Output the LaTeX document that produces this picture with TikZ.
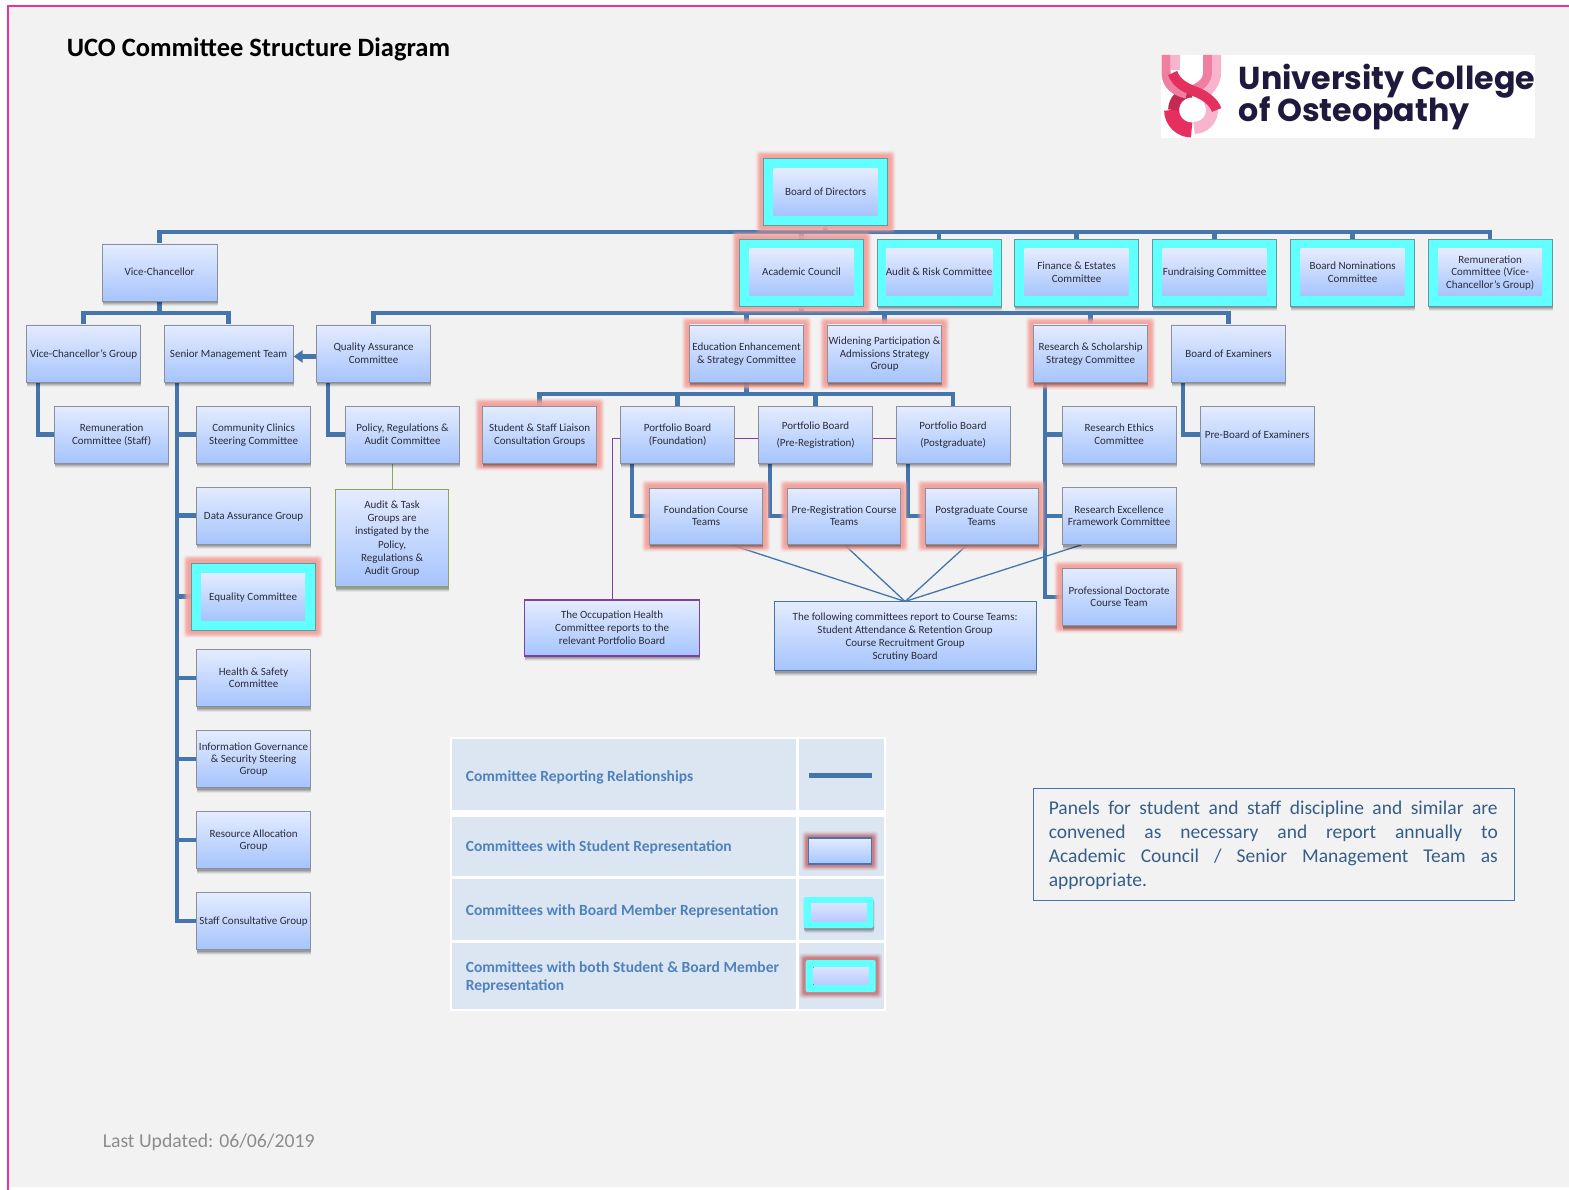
\documentclass[tikz,border=0pt]{standalone}
\usepackage{fontspec}
\setmainfont{Carlito}
\newfontfamily\logofont{Poppins}
\usetikzlibrary{shadows,calc,arrows.meta}
\definecolor{bgc}{HTML}{F2F2F2}
\definecolor{frame}{HTML}{F02FA0}
\definecolor{conn}{HTML}{4475AD}
\definecolor{boxtop}{HTML}{E4ECFF}
\definecolor{boxbot}{HTML}{A6C4FC}
\definecolor{boxedge}{HTML}{8A8F9A}
\definecolor{glow}{HTML}{F3A09A}
\definecolor{cyanb}{HTML}{62FFFF}
\definecolor{cyanedge}{HTML}{5F9A9E}
\definecolor{purp}{HTML}{7F3FA8}
\definecolor{oliveg}{HTML}{8AA656}
\definecolor{legbg}{HTML}{DCE6F2}
\definecolor{legtxt}{HTML}{4F81BD}
\definecolor{legglow}{HTML}{C04444}
\definecolor{inkc}{HTML}{2B2B38}
\definecolor{logoink}{HTML}{1F1A3D}
\definecolor{lp}{HTML}{F7B4CC}
\definecolor{mp}{HTML}{EE7FA0}
\definecolor{cr}{HTML}{E5305F}
\definecolor{legin1}{HTML}{DCE4FF}
\definecolor{legin2}{HTML}{B8CAFF}
\newcommand{\ft}{\rule{0pt}{10pt}}
\newcommand{\lt}{\rule[-3pt]{0pt}{3pt}}
\pgfdeclarelayer{bgl}\pgfdeclarelayer{connl}\pgfdeclarelayer{glowl}
\pgfsetlayers{bgl,connl,glowl,main}
\tikzset{
  x=1pt,y=-1pt,
  softsh/.style={
    general shadow={shadow xshift=.5pt,shadow yshift=-5pt,opacity=.06,fill=black,draw=none},
    general shadow={shadow xshift=.5pt,shadow yshift=-4pt,opacity=.09,fill=black,draw=none},
    general shadow={shadow xshift=.5pt,shadow yshift=-3pt,opacity=.12,fill=black,draw=none},
    general shadow={shadow xshift=.5pt,shadow yshift=-2pt,opacity=.15,fill=black,draw=none}},
  btxt/.style={top color=boxtop,bottom color=boxbot,align=center,
    font=\fontsize{11}{12.2}\selectfont,text=inkc,inner sep=0pt},
  cbox/.style={btxt,draw=boxedge,line width=0.9pt,minimum width=#1,softsh},
  cbox/.default=114,
  cinner/.style={btxt,minimum width=104,minimum height=47},
  cyanout/.style={fill=cyanb,draw=cyanedge,line width=.8pt,minimum width=124,minimum height=67,inner sep=0pt,softsh},
  bothout/.style={fill=cyanb,draw=cyanedge,line width=.8pt,minimum width=124,minimum height=67,inner sep=0pt},
  rep/.style={line width=4.3pt,draw=conn,line join=miter},
  thinl/.style={line width=1.3pt,draw=conn},
  pline/.style={line width=1.2pt,draw=purp},
  legtext/.style={font=\bfseries\fontsize{15.5}{18.5}\selectfont,text=legtxt,anchor=west,align=left,inner sep=0pt},
  legcell/.style={fill=legbg,draw=none},
  leginner/.style={top color=legin1,bottom color=legin2},
}
\newcommand{\glowfor}[1]{%
  \foreach \g/\o in {7.5/.12,6.5/.2,5.5/.35,4.5/.5,3/.7}{
    \fill[glow,opacity=\o,rounded corners=3pt] ($(#1.north west)+(-\g,-\g)$) rectangle ($(#1.south east)+(\g,\g)$);}
}
\newcommand{\legglowfor}[1]{%
  \foreach \g/\o in {6.5/.08,5.5/.12,4.5/.16,3.5/.22,2.5/.3}{
    \fill[legglow,opacity=\o,rounded corners=3pt] ($(#1.north west)+(-\g,-\g)$) rectangle ($(#1.south east)+(\g,\g)$);}
}
\begin{document}
\begin{tikzpicture}
\useasboundingbox (0,0) rectangle (1569,1190);
\begin{pgfonlayer}{bgl}
\fill[white] (0,0) rectangle (1569,1190);
\fill[bgc] (8,6) rectangle (1569,1187);
\draw[frame,line width=1.5pt] (8,1190) -- (8,6) -- (1569,6);
\end{pgfonlayer}

\begin{scope}[xshift=.6pt]
% title
\node[anchor=west,font=\bfseries\fontsize{26.5}{30}\selectfont,text=black,inner sep=0pt] (title) at (66,49.5) {UCO Committee Structure Diagram};

% logo
\fill[white] (1160,55) rectangle (1534,138);
\begin{scope}
\clip (1160,55) rectangle (1222,138);
\draw[line width=12pt,color=lp] (1209,101) arc[start angle=-30,end angle=90,radius=18];
\draw[line width=15pt,color=cr] (1171,110) arc[start angle=180,end angle=90,radius=20];
\draw[line width=11pt,color=cr!85!black] (1173,110) arc[start angle=180,end angle=270,radius=18];
\draw[line width=9pt,color=mp] (1165.5,55) -- (1165.5,74) .. controls (1166,86) and (1176,92) .. (1186,94);
\draw[line width=9pt,color=lp] (1175,55) -- (1175,70);
\draw[line width=9pt,color=mp] (1207,55) -- (1207,72) .. controls (1207,82) and (1200,86) .. (1192,90);
\draw[line width=9pt,color=lp] (1216,55) -- (1216,72) .. controls (1216,84) and (1208,92) .. (1200,97);
\draw[line width=10pt,color=cr] (1172,73) .. controls (1176,84) and (1186,88) .. (1193,91) .. controls (1205,95) and (1214,103) .. (1216,110);
\end{scope}
\node[anchor=west,font=\logofont\bfseries\fontsize{31.7}{34}\selectfont,text=logoink,inner sep=0pt] (logoa) at (1238,81) {University College};
\node[anchor=west,font=\logofont\bfseries\fontsize{31.7}{34}\selectfont,text=logoink,inner sep=0pt] (logob) at (1238,113) {of Osteopathy};

% cyan outers
\node[bothout] (bodo) at (825,192) {};
\node[bothout] (aco) at (801,272.5) {};
\node[bothout] (eqo) at (252.5,596.5) {};
\node[cyanout] (aro) at (938.5,272.5) {};
\node[cyanout] (feo) at (1076,272.5) {};
\node[cyanout] (fro) at (1214,272.5) {};
\node[cyanout] (bno) at (1352,272.5) {};
\node[cyanout] (remo) at (1489.5,272.5) {};

% boxes
\node[cinner] (bod) at (bodo.center) {\ft Board of Directors\lt};
\node[cinner] (ac) at (aco.center) {\ft Academic Council\lt};
\node[cinner] (ar) at (aro.center) {\ft Audit \& Risk Committee\lt};
\node[cinner] (fe) at (feo.center) {\ft Finance \& Estates\\Committee\lt};
\node[cinner] (fr) at (fro.center) {\ft Fundraising Committee\lt};
\node[cinner] (bn) at (bno.center) {\ft Board Nominations\\Committee\lt};
\node[cinner] (rem) at (remo.center) {\ft Remuneration\\Committee (Vice-\\Chancellor’s Group)\lt};
\node[cinner] (eq) at (eqo.center) {\ft Equality Committee\lt};

\node[cbox=115,minimum height=57] (vc) at (159,272.5) {\ft Vice-Chancellor\lt};
\node[cbox=114,minimum height=57] (vcg) at (83,353.5) {\ft Vice-Chancellor’s Group\lt};
\node[cbox=129,minimum height=57] (smt) at (228,353.5) {\ft Senior Management Team\lt};
\node[cbox=114,minimum height=57] (qa) at (373,353.5) {\ft Quality Assurance\\Committee\lt};
\node[cbox=114,minimum height=57] (ee) at (746,353.5) {\ft Education Enhancement\\\& Strategy Committee\lt};
\node[cbox=114,minimum height=57] (wp) at (884,353.5) {\ft Widening Participation \&\\Admissions Strategy\\Group\lt};
\node[cbox=114,minimum height=57] (rs) at (1090,353.5) {\ft Research \& Scholarship\\Strategy Committee\lt};
\node[cbox=114,minimum height=57] (boe) at (1228,353.5) {\ft Board of Examiners\lt};

\node[cbox=114,minimum height=57] (rcs) at (111,434.5) {\ft Remuneration\\Committee (Staff)\lt};
\node[cbox=114,minimum height=57] (cc) at (253,434.5) {\ft Community Clinics\\Steering Committee\lt};
\node[cbox=114,minimum height=57] (pra) at (402,434.5) {\ft Policy, Regulations \&\\Audit Committee\lt};
\node[cbox=114,minimum height=57] (ssl) at (539,434.5) {\ft Student \& Staff Liaison\\Consultation Groups\lt};
\node[cbox=114,minimum height=57] (pf) at (677,434.5) {\ft Portfolio Board\\(Foundation)\lt};
\node[cbox=114,minimum height=57,font=\fontsize{11}{17}\selectfont] (pp) at (815,434.5) {\ft Portfolio Board\\(Pre-Registration)\lt};
\node[cbox=114,minimum height=57,font=\fontsize{11}{17}\selectfont] (pg) at (952.5,434.5) {\ft Portfolio Board\\(Postgraduate)\lt};
\node[cbox=114,minimum height=57] (rec) at (1118.5,434.5) {\ft Research Ethics\\Committee\lt};
\node[cbox=114,minimum height=57] (pbe) at (1256.5,434.5) {\ft Pre-Board of Examiners\lt};

\node[cbox=114,minimum height=57] (da) at (253,515.5) {\ft Data Assurance Group\lt};
\node[cbox=114,minimum height=57] (hs) at (253,678) {\ft Health \& Safety\\Committee\lt};
\node[cbox=114,minimum height=57] (ig) at (253,759) {\ft Information Governance\\\& Security Steering\\Group\lt};
\node[cbox=114,minimum height=57] (ra) at (253,840) {\ft Resource Allocation\\Group\lt};
\node[cbox=114,minimum height=57] (sc) at (253,921) {\ft Staff Consultative Group\lt};

\node[cbox=113,minimum height=97,draw=oliveg,line width=1.2pt,font=\fontsize{11}{13.2}\selectfont] (at) at (391.5,538) {\ft Audit \& Task\\Groups are\\instigated by the\\Policy,\\Regulations \&\\Audit Group\lt};

\node[cbox=113,minimum height=56] (fct) at (705.5,516) {\ft Foundation Course\\Teams\lt};
\node[cbox=113,minimum height=56] (prc) at (843.5,516) {\ft Pre-Registration Course\\Teams\lt};
\node[cbox=113,minimum height=56] (pct) at (981,516) {\ft Postgraduate Course\\Teams\lt};
\node[cbox=114,minimum height=57] (ref) at (1118.5,516) {\ft Research Excellence\\Framework Committee\lt};
\node[cbox=114,minimum height=57] (pd) at (1118.5,597) {\ft Professional Doctorate\\Course Team\lt};

\node[cbox=175,minimum height=56,draw=purp,line width=1.4pt,font=\fontsize{11}{13}\selectfont] (och) at (611.5,628) {\ft The Occupation Health\\Committee reports to the\\relevant Portfolio Board\lt};
\node[cbox=262,minimum height=69,draw=conn,line width=1.2pt,font=\fontsize{11}{13}\selectfont] (fol) at (904.5,636) {\ft The following committees report to Course Teams:\\Student Attendance \& Retention Group\\Course Recruitment Group\\Scrutiny Board\lt};

% halos (above connectors, below boxes)
\begin{pgfonlayer}{glowl}
\foreach \n in {bodo,aco,eqo,ee,wp,rs,ssl,fct,prc,pct,pd}{\glowfor{\n}}
\end{pgfonlayer}

% connectors
\begin{pgfonlayer}{connl}
\coordinate (busA) at (824.5,232);
\coordinate (busB) at (801,313);
\coordinate (busC) at (746,394);
\coordinate (busV) at (159,313);
\draw[rep] (bodo.south) -- (busA);
\draw[rep] (vc.north) |- (busA);
\foreach \n in {aco,aro,feo,fro,bno,remo}{\draw[rep] (busA) -| (\n.north);}
\draw[rep] (vc.south) -- (busV);
\draw[rep] (vcg.north) |- (busV);
\draw[rep] (smt.north) |- (busV);
\draw[rep] (aco.south) -- (busB);
\draw[rep] (qa.north) |- (busB);
\foreach \n in {ee,wp,rs,boe}{\draw[rep] (busB) -| (\n.north);}
\draw[rep] (ee.south) -- (busC);
\foreach \n in {ssl,pf,pp,pg}{\draw[rep] (busC) -| (\n.north);}
\coordinate (vcgdown) at ($(vcg.south west)+(11.5,0)$);
\draw[rep] (vcgdown) |- (rcs.west);
\coordinate (qad) at ($(qa.south west)+(11.5,0)$);
\draw[rep] (qad) |- (pra.west);
\coordinate (smtd) at ($(smt.south west)+(13,0)$);
\draw[rep] (smtd) |- (sc.west);
\foreach \n in {cc,da,eqo,hs,ig,ra}{\draw[rep] (smtd) |- (\n.west);}
\coordinate (pfd) at ($(pf.south west)+(12,0)$);
\draw[rep] (pfd) |- (fct.west);
\coordinate (ppd) at ($(pp.south west)+(12,0)$);
\draw[rep] (ppd) |- (prc.west);
\coordinate (pgd) at ($(pg.south west)+(12,0)$);
\draw[rep] (pgd) |- (pct.west);
\coordinate (rsd) at ($(rs.south west)+(12,0)$);
\draw[rep] (rsd) |- (pd.west);
\draw[rep] (rsd) |- (rec.west);
\draw[rep] (rsd) |- (ref.west);
\coordinate (boed) at ($(boe.south west)+(12,0)$);
\draw[rep] (boed) |- (pbe.west);
\draw[line width=1.2pt,draw=oliveg] (pra.south) ++(-10,0) coordinate (prad) -- (prad |- at.north);
\coordinate (fpt) at (904.5,601.5);
\draw[thinl] (fpt) -- ($(fct.south)+(24,0)$);
\draw[thinl] (fpt) -- (prc.south);
\draw[thinl] (fpt) -- ($(pct.south)+(-14,0)$);
\draw[thinl] (fpt) -- ($(ref.south)+(-38,0)$);
\coordinate (pfl) at ($(pf.west)+(0,4)$);
\draw[pline] (och.north) |- (pfl);
\draw[pline] ($(pf.east)+(0,4)$) -- ($(pp.west)+(0,4)$);
\draw[pline] ($(pp.east)+(0,4)$) -- ($(pg.west)+(0,4)$);
\end{pgfonlayer}
\draw[line width=5pt,draw=conn,-{Triangle[length=9pt,width=12pt]}] ($(qa.west)+(0,3)$) -- ($(smt.east)+(0,3)$);

% legend
\fill[white] (449,737) rectangle (885,1011);
\fill[legcell] (451,739) rectangle (795,810);
\fill[legcell] (798,739) rectangle (883,810);
\fill[legcell] (451,817) rectangle (795,876);
\fill[legcell] (798,817) rectangle (883,876);
\fill[legcell] (451,879) rectangle (795,940);
\fill[legcell] (798,879) rectangle (883,940);
\fill[legcell] (451,943) rectangle (795,1009);
\fill[legcell] (798,943) rectangle (883,1009);
\node[legtext] (l1) at (465,777.5) {Committee Reporting Relationships};
\node[legtext] (l2) at (465,847.5) {Committees with Student Representation};
\node[legtext] (l3) at (465,911.5) {Committees with Board Member Representation};
\node[legtext] (l4) at (465,977.5) {Committees with both Student \& Board Member\\Representation};
\draw[line width=4.3pt,draw=conn] (808,775.5) -- (871,775.5);
\node[minimum width=63,minimum height=26,inner sep=0pt] (lsg) at (839.5,851) {};
\legglowfor{lsg}
\node[draw=conn,line width=1.4pt,top color=boxtop,bottom color=boxbot,minimum width=63,minimum height=26,inner sep=0pt] (ls) at (839.5,851) {};
\node[fill=cyanb,rounded corners=2pt,minimum width=70,minimum height=31,inner sep=0pt,softsh] (lb) at (838,912.5) {};
\fill[leginner] ($(lb.north west)+(8,7)$) rectangle ($(lb.south east)+(-7,-7)$);
\node[minimum width=70,minimum height=32,inner sep=0pt] (lg) at (840,976) {};
\legglowfor{lg}
\node[fill=cyanb,rounded corners=2pt,minimum width=70,minimum height=32,inner sep=0pt] (lc) at (840,976) {};
\fill[leginner] ($(lc.north west)+(8,7.5)$) rectangle ($(lc.south east)+(-7,-7.5)$);

% panel note
\node[draw=conn,line width=1.4pt,fill=bgc,anchor=north west,minimum width=481,minimum height=112,inner sep=0pt] (note) at (1032,788) {};
\node[anchor=west,font=\fontsize{19.5}{24}\selectfont,text=conn!80!black,text width=449,align=justify,inner sep=0pt] (notet) at (1048,845.5) {\hyphenpenalty=10000 Panels for student and staff discipline and similar are\linebreak convened as necessary and report annually to\linebreak Academic Council / Senior Management Team as\linebreak appropriate.};

\node[anchor=west,font=\fontsize{19.7}{22}\selectfont,text=black!45,inner sep=0pt] (upd) at (102,1142) {Last Updated: 06/06/2019};
\end{scope}
\end{tikzpicture}
\end{document}
